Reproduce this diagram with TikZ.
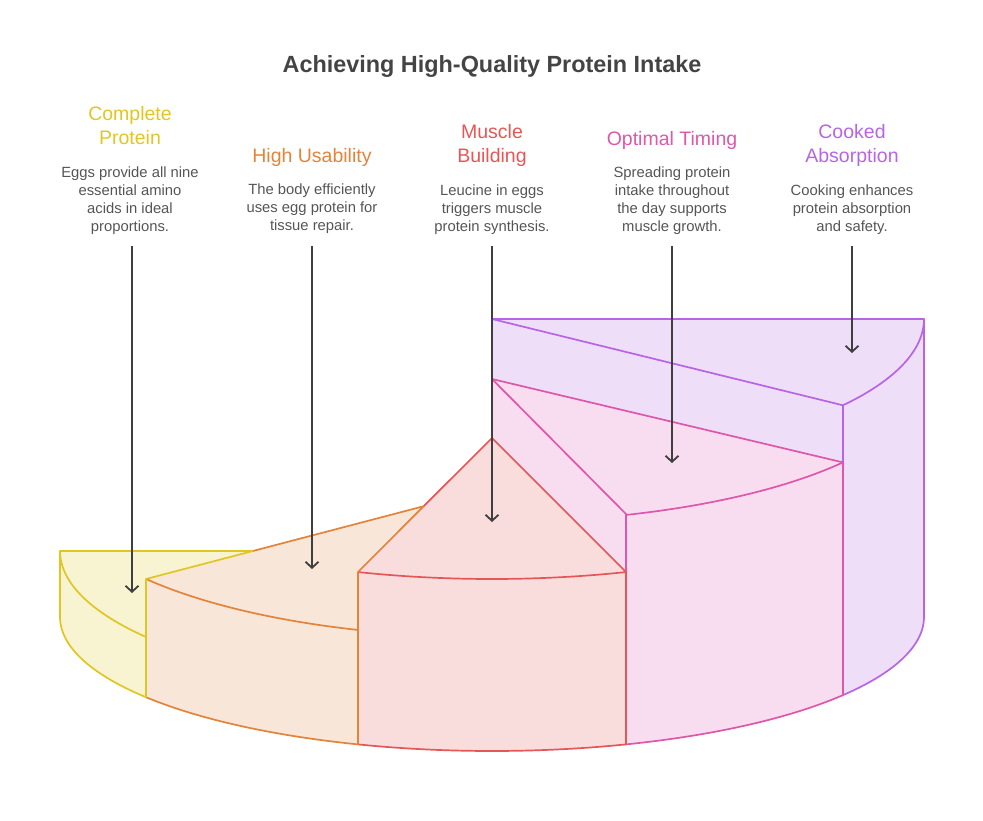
\documentclass[tikz,border=0pt]{standalone}
\usepackage{fontspec}
\setmainfont{Liberation Sans}
\usetikzlibrary{arrows.meta}
\definecolor{ylS}{HTML}{E0C623}
\definecolor{ylF}{HTML}{F8F4D2}
\definecolor{orS}{HTML}{E3843A}
\definecolor{orF}{HTML}{F8E6D8}
\definecolor{rdS}{HTML}{E65656}
\definecolor{rdF}{HTML}{F9DDDD}
\definecolor{pkS}{HTML}{DF57AA}
\definecolor{pkF}{HTML}{F8DDF0}
\definecolor{puS}{HTML}{B864E6}
\definecolor{puF}{HTML}{EFDEF8}
\definecolor{txt}{HTML}{555555}
\definecolor{ttl}{HTML}{444444}
\definecolor{arr}{HTML}{3F3F3F}
\begin{document}
\begin{tikzpicture}[x=1pt,y=-1pt,
  edge/.style={line width=1.7pt, line join=round, line cap=round},
  head/.style={font=\fontsize{19.5}{24}\selectfont, align=center, anchor=base, inner sep=0pt},
  desc/.style={font=\fontsize{14.8}{18}\selectfont, text=txt, align=center, anchor=base, inner sep=0pt},
  pointer/.style={draw=arr, line width=1.8pt, -{Straight Barb[length=6pt,width=13pt,line width=1.8pt]}}]
\useasboundingbox (0,0) rectangle (983,820);
% ---------- purple ----------
\fill[puF] (492,319) -- (924,319) -- (924,617)
  -- plot[domain=0:35.66,samples=30] ({492+432*cos(\x)},{617+134*sin(\x)})
  -- (843,462) -- (492,379) -- cycle;
\draw[edge,puS] (492,319) -- (924,319) -- (924,617)
  -- plot[domain=0:35.66,samples=30] ({492+432*cos(\x)},{617+134*sin(\x)});
\draw[edge,puS] (492,319) -- (843,405.3) -- (843,462);
\draw[edge,puS] plot[domain=0:35.66,samples=30] ({492+432*cos(\x)},{319+148*sin(\x)});
% ---------- pink ----------
\fill[pkF] (492,379) -- (843,462.4) -- (843,695)
  -- plot[domain=35.66:71.93,samples=30] ({492+432*cos(\x)},{617+134*sin(\x)})
  -- (626,572) -- (492,438) -- cycle;
\draw[edge,pkS] (492,379) -- (843,462.4) -- (843,695)
  -- plot[domain=35.66:71.93,samples=30] ({492+432*cos(\x)},{617+134*sin(\x)})
  -- (626,514);
\draw[edge,pkS] (492,379) -- (626,514);
\draw[edge,pkS] plot[domain=35.66:71.93,samples=30] ({492+432*cos(\x)},{379+143*sin(\x)});
% ---------- red ----------
\fill[rdF] (492,438) -- (626,572) -- (626,744.4)
  -- plot[domain=71.93:108.07,samples=30] ({492+432*cos(\x)},{617+134*sin(\x)})
  -- (358,572) -- cycle;
\draw[edge,rdS] (423.7,506.2) -- (492,438) -- (626,572) -- (626,744.4)
  -- plot[domain=71.93:108.07,samples=30] ({492+432*cos(\x)},{617+134*sin(\x)});
\draw[edge,rdS] plot[domain=71.93:108.07,samples=30] ({492+432*cos(\x)},{438+141*sin(\x)});
% ---------- orange ----------
\fill[orF] (146,579) -- (423.7,506.2) -- (358,572) -- (358,744.4)
  -- plot[domain=108.07:143.22,samples=30] ({492+432*cos(\x)},{617+134*sin(\x)})
  -- cycle;
\draw[edge,orS] (252.8,551) -- (423.7,506.2) -- (358,572) -- (358,744.4)
  -- plot[domain=108.07:143.22,samples=30] ({492+432*cos(\x)},{617+134*sin(\x)});
\draw[edge,orS] plot[domain=108.07:143.22,samples=30] ({492+432*cos(\x)},{492.2+144.9*sin(\x)});
% ---------- yellow ----------
\fill[ylF] (60,551) -- (252.8,551) -- (146,579) -- (146,697)
  -- plot[domain=143.22:180,samples=30] ({492+432*cos(\x)},{617+134*sin(\x)})
  -- cycle;
\draw[edge,ylS] (60,617) -- (60,551) -- (252.8,551) -- (146,579) -- (146,697)
  -- plot[domain=143.22:180,samples=30] ({492+432*cos(\x)},{617+134*sin(\x)});
\draw[edge,ylS] plot[domain=143.22:180,samples=30] ({492+432*cos(\x)},{551+143.6*sin(\x)});
% ---------- title ----------
\node[font=\fontsize{23.4}{28}\selectfont\bfseries, text=ttl, anchor=base, inner sep=0pt] (title) at (492,72) {Achieving High-Quality Protein Intake};
% ---------- headings (anchor = baseline of last line) ----------
\node[head, text=ylS] (h1) at (130,144) {Complete\\Protein};
\node[head, text=orS] (h2) at (312,162) {High Usability};
\node[head, text=rdS] (h3) at (492,162) {Muscle\\Building};
\node[head, text=pkS] (h4) at (672,145) {Optimal Timing};
\node[head, text=puS] (h5) at (852,162) {Cooked\\Absorption};
% ---------- descriptions (anchor = baseline of last line) ----------
\node[desc] (d1) at (130,231) {Eggs provide all nine\\essential amino\\acids in ideal\\proportions.};
\node[desc] (d2) at (312,230) {The body efficiently\\uses egg protein for\\tissue repair.};
\node[desc] (d3) at (492,231) {Leucine in eggs\\triggers muscle\\protein synthesis.};
\node[desc] (d4) at (672,231) {Spreading protein\\intake throughout\\the day supports\\muscle growth.};
\node[desc] (d5) at (852,231) {Cooking enhances\\protein absorption\\and safety.};
% ---------- pointers ----------
\coordinate (s1) at (132,246); \coordinate (e1) at (132,593);
\coordinate (s2) at (312,246); \coordinate (e2) at (312,569);
\coordinate (s3) at (492,246); \coordinate (e3) at (492,522);
\coordinate (s4) at (672,246); \coordinate (e4) at (672,463);
\coordinate (s5) at (852,246); \coordinate (e5) at (852,353);
\draw[pointer] (s1) -- (e1);
\draw[pointer] (s2) -- (e2);
\draw[pointer] (s3) -- (e3);
\draw[pointer] (s4) -- (e4);
\draw[pointer] (s5) -- (e5);
\end{tikzpicture}
\end{document}
